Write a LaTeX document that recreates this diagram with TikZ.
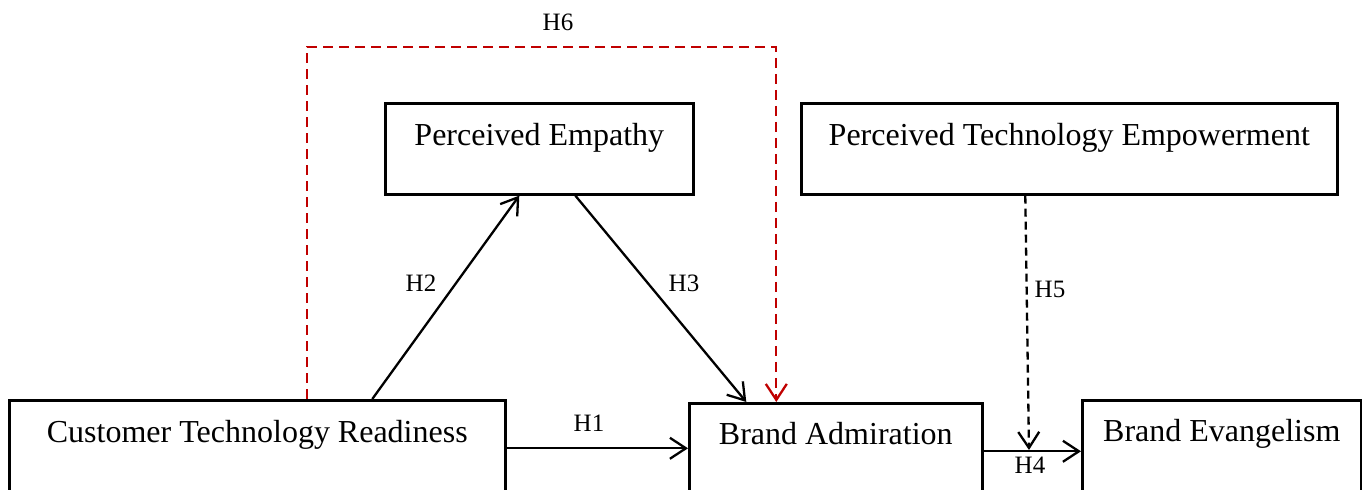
\documentclass[tikz,border=0pt]{standalone}
\usepackage{fontspec}
\setmainfont{Liberation Serif}
\usetikzlibrary{arrows.meta}
\definecolor{hsixred}{RGB}{192,0,0}

\begin{document}
\begin{tikzpicture}[x=0.5pt, y=-0.5pt,
  box/.style={draw, line width=1.3pt, inner xsep=0pt, inner ysep=0pt, anchor=north west,
    font=\fontsize{16}{19}\selectfont},
  hyp/.style={font=\fontsize{12.5}{15}\selectfont, inner sep=1pt},
  link/.style={line width=1.15pt, -{Straight Barb[length=8pt,width=10.5pt]}},
  modlink/.style={link, dash pattern=on 4pt off 2.5pt},
  medlink/.style={link, hsixred, dash pattern=on 5pt off 3pt}]
  \clip (0,0) rectangle (1362,490);

  % constructs
  \node[box, minimum width=248pt, text height=21pt, text depth=27pt] (ctr) at (8,399) {Customer Technology Readiness};
  \node[box, minimum width=154pt, text height=21pt, text depth=24.5pt] (pe) at (384,102) {Perceived Empathy};
  \node[box, minimum width=268pt, text height=21pt, text depth=24.5pt] (pte) at (800,102) {Perceived Technology Empowerment};
  \node[box, minimum width=146.5pt, text height=20.5pt, text depth=27.5pt] (ba) at (688,402) {Brand Admiration};
  \node[box, minimum width=139.5pt, text height=20.5pt, text depth=32.5pt] (be) at (1081,399) {Brand Evangelism};

  \coordinate (hsixtop) at (0,47);
  \coordinate (hsixstart) at ([xshift=25pt]ctr.north);
  \coordinate (hfiveend) at (1029,450);

  % paths
  \draw[link] (ctr.east) -- (ctr.east -| ba.west);
  \draw[link] ([xshift=57.5pt]ctr.north) -- ([xshift=-10pt]pe.south);
  \draw[link] ([xshift=18pt]pe.south) -- ([xshift=-44.75pt]ba.north);
  \draw[link] (ba.east) -- (be.west |- ba.east);
  \draw[modlink] ([xshift=-22pt]pte.south) -- (hfiveend);
  \draw[medlink] (hsixstart) -- (hsixstart |- hsixtop) -| ([xshift=-29.75pt]ba.north);

  % hypotheses
  \node[hyp] (lh1) at (589,423) {H1};
  \node[hyp] (lh2) at (421,283) {H2};
  \node[hyp] (lh3) at (684,283) {H3};
  \node[hyp] (lh4) at (1030,465) {H4};
  \node[hyp] (lh5) at (1050,289) {H5};
  \node[hyp] (lh6) at (558,22) {H6};
\end{tikzpicture}
\end{document}
